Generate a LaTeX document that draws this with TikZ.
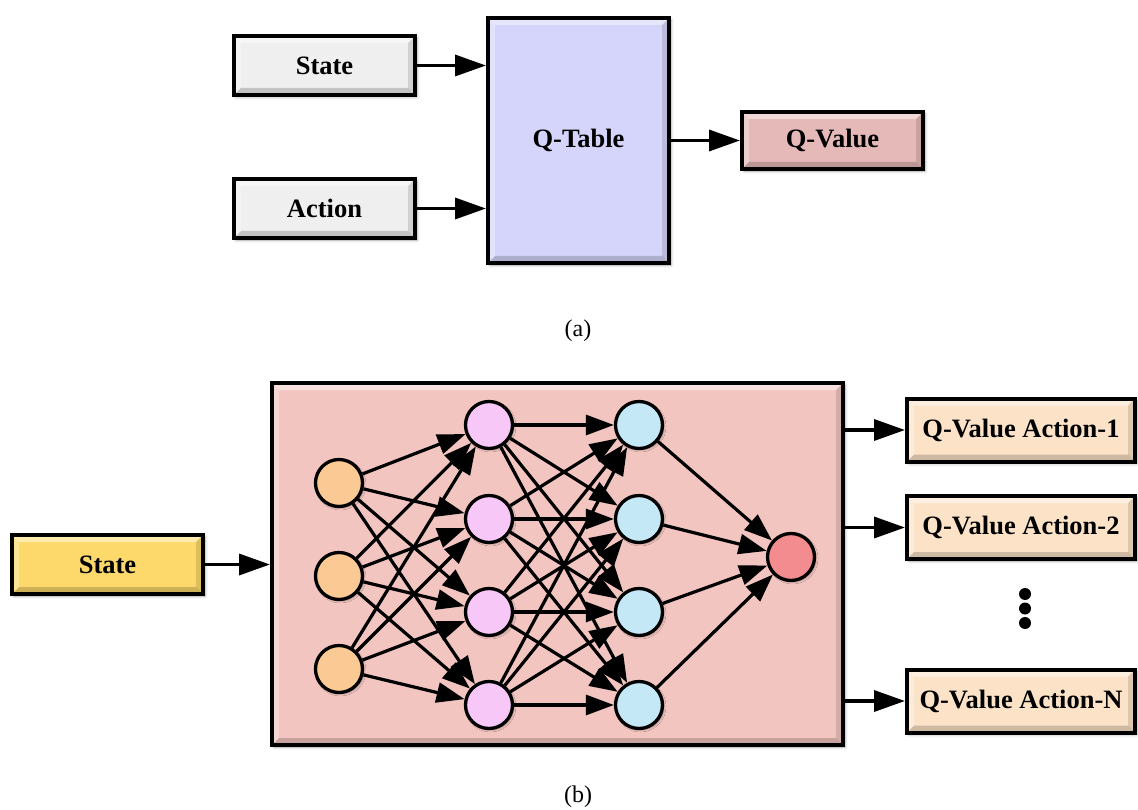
\documentclass[tikz,border=0pt]{standalone}
\usepackage{fontspec}
\setmainfont{Liberation Serif}
\usetikzlibrary{arrows.meta,shadows.blur}
\definecolor{grayfill}{HTML}{EFEFEF}
\definecolor{qtable}{HTML}{D5D5FB}
\definecolor{qvalue}{HTML}{E5B9B7}
\definecolor{bigbox}{HTML}{F2C5C1}
\definecolor{stateb}{HTML}{FCD96A}
\definecolor{actout}{HTML}{FCE3C8}
\definecolor{incol}{HTML}{FAC994}
\definecolor{hacol}{HTML}{F7C8F7}
\definecolor{hbcol}{HTML}{C5E8F6}
\definecolor{outcol}{HTML}{F38C8F}
\tikzset{
  bevel/.style={path picture={
    \fill[white,opacity=0.45] (path picture bounding box.north west) -- (path picture bounding box.north east)
      -- ([xshift=-7pt,yshift=-7pt]path picture bounding box.north east) -- ([xshift=7pt,yshift=-7pt]path picture bounding box.north west) -- cycle;
    \fill[white,opacity=0.3] (path picture bounding box.north west) -- (path picture bounding box.south west)
      -- ([xshift=7pt,yshift=7pt]path picture bounding box.south west) -- ([xshift=7pt,yshift=-7pt]path picture bounding box.north west) -- cycle;
    \fill[black,opacity=0.18] (path picture bounding box.south west) -- (path picture bounding box.south east)
      -- ([xshift=-7pt,yshift=7pt]path picture bounding box.south east) -- ([xshift=7pt,yshift=7pt]path picture bounding box.south west) -- cycle;
    \fill[black,opacity=0.12] (path picture bounding box.north east) -- (path picture bounding box.south east)
      -- ([xshift=-7pt,yshift=7pt]path picture bounding box.south east) -- ([xshift=-7pt,yshift=-7pt]path picture bounding box.north east) -- cycle;
  }},
  box/.style={draw=black, line width=4pt, inner sep=0pt, bevel,
    font=\fontsize{26.5}{29}\selectfont\bfseries,
    blur shadow={shadow xshift=2pt, shadow yshift=-2pt, shadow blur radius=3pt, shadow opacity=35}},
  neuron/.style={circle, draw=black, line width=3.3pt, minimum size=47pt, inner sep=0pt,
    blur shadow={shadow xshift=1.5pt, shadow yshift=-1.5pt, shadow blur radius=2pt, shadow opacity=35}},
  arr/.style={line width=3.5pt, -{Triangle[length=31pt,width=21pt]}},
  narr/.style={line width=3.2pt, -{Triangle[length=28pt,width=20pt]}},
  dot/.style={circle, fill=black, minimum size=12pt, inner sep=0pt},
  captext/.style={font=\fontsize{24}{26}\selectfont}
}
\begin{document}
\begin{tikzpicture}[x=1pt,y=-1pt]
\useasboundingbox (0,0) rectangle (1138,810);
% ---------- (a)
\node[box, fill=grayfill, minimum width=181pt, minimum height=59pt] (sa) at (324.5,65.5) {State};
\node[box, fill=grayfill, minimum width=181pt, minimum height=59pt] (aa) at (324.5,208.5) {Action};
\node[box, fill=qtable, minimum width=181pt, minimum height=245pt] (qt) at (578.5,140.5) {Q-Table};
\node[box, fill=qvalue, minimum width=181pt, minimum height=57pt] (qv) at (832.5,140.5) {Q-Value};
\draw[arr] (sa.east) -- (sa.east -| qt.west);
\draw[arr] (aa.east) -- (aa.east -| qt.west);
\draw[arr] (qt.east) -- (qv.west);
\node[captext] (capa) at (578,331) {(a)};
% ---------- (b)
\node[box, fill=bigbox, minimum width=571pt, minimum height=362pt] (big) at (557.5,564) {};
\node[box, fill=stateb, minimum width=191pt, minimum height=59pt] (sb) at (107.5,564.5) {State};
\draw[arr] (sb.east) -- (sb.east -| big.west);
\node[box, fill=actout, minimum width=228pt, minimum height=63pt] (o1) at (1021,430) {Q-Value Action-1};
\node[box, fill=actout, minimum width=228pt, minimum height=63pt] (o2) at (1021,527.5) {Q-Value Action-2};
\node[box, fill=actout, minimum width=228pt, minimum height=63pt] (on) at (1021,701) {Q-Value Action-N};
\draw[arr] (big.east |- o1) -- (o1.west);
\draw[arr] (big.east |- o2) -- (o2.west);
\draw[arr] (big.east |- on) -- (on.west);
\node[dot] (d1) at (1025,594) {};
\node[dot] (d2) at (1025,608.5) {};
\node[dot] (d3) at (1025,623) {};
% neurons
\foreach \i/\y in {1/483,2/576,3/669} \node[neuron, fill=incol] (in\i) at (339,\y) {};
\foreach \i/\y in {1/425,2/519,3/612,4/705} \node[neuron, fill=hacol] (ha\i) at (489,\y) {};
\foreach \i/\y in {1/425,2/519,3/612,4/705} \node[neuron, fill=hbcol] (hb\i) at (639,\y) {};
\node[neuron, fill=outcol] (out) at (791,557) {};
\foreach \i in {1,2,3} \foreach \j in {1,2,3,4} \draw[narr] (in\i) -- (ha\j);
\foreach \i in {1,2,3,4} \foreach \j in {1,2,3,4} \draw[narr] (ha\i) -- (hb\j);
\foreach \i in {1,2,3,4} \draw[narr] (hb\i) -- (out);
\node[captext] (capb) at (578,797) {(b)};
\end{tikzpicture}
\end{document}
